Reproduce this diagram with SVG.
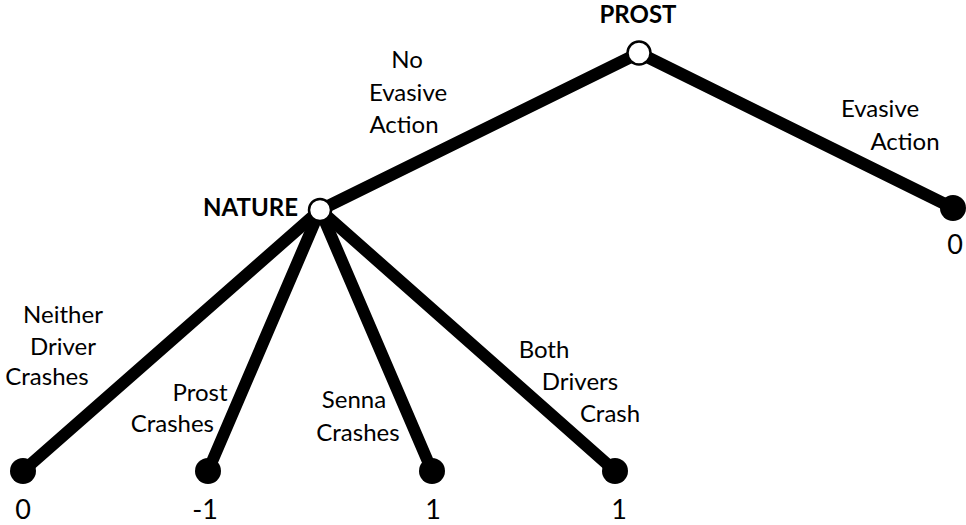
<svg xmlns="http://www.w3.org/2000/svg" width="966" height="525" viewBox="0 0 966 525">
  <style>
    .edge { stroke: #000; stroke-width: 12; stroke-linecap: round; fill: none; }
    .decision { fill: #fff; stroke: #000; stroke-width: 2.5; }
    .terminal { fill: #000; }
    text { font-family: "Lato", "Open Sans", "Liberation Sans", sans-serif; font-size: 24px; fill: #000; }
    .title { font-weight: bold; }
    .mid { text-anchor: middle; }
    .payoff { font-size: 27px; text-anchor: middle; }
  </style>
  <rect width="966" height="525" fill="#fff"/>

  <!-- branches -->
  <g id="connectors">
    <line class="edge" x1="639" y1="53" x2="320" y2="210"/>
    <line class="edge" x1="639" y1="53" x2="953" y2="208"/>
    <line class="edge" x1="320" y1="210" x2="23" y2="471"/>
    <line class="edge" x1="320" y1="210" x2="208" y2="471"/>
    <line class="edge" x1="320" y1="210" x2="432" y2="471"/>
    <line class="edge" x1="320" y1="210" x2="615" y2="471"/>
  </g>

  <!-- branch labels -->
  <g id="labels">
    <text class="mid" x="407" y="68">No</text>
    <text class="mid" x="408" y="101">Evasive</text>
    <text class="mid" x="404" y="133">Action</text>

    <text class="mid" x="880" y="117">Evasive</text>
    <text class="mid" x="905" y="150">Action</text>

    <text class="mid" x="63" y="323">Neither</text>
    <text class="mid" x="63" y="355">Driver</text>
    <text class="mid" x="47" y="385">Crashes</text>

    <text class="mid" x="200" y="401">Prost</text>
    <text x="214" y="432" text-anchor="end">Crashes</text>

    <text class="mid" x="354" y="408">Senna</text>
    <text class="mid" x="358" y="441">Crashes</text>

    <text class="mid" x="544" y="358">Both</text>
    <text class="mid" x="580" y="390">Drivers</text>
    <text class="mid" x="610" y="422">Crash</text>
  </g>

  <g id="prost">
    <circle class="decision" cx="639" cy="53" r="11.5"/>
    <text class="title mid" x="638" y="23">PROST</text>
  </g>

  <g id="nature">
    <circle class="decision" cx="320" cy="210" r="11"/>
    <text class="title" x="298" y="216" text-anchor="end">NATURE</text>
  </g>

  <g id="leaf-evasive">
    <circle class="terminal" cx="953" cy="208" r="13"/>
    <text class="payoff" x="955" y="254">0</text>
  </g>

  <g id="leaf-neither">
    <circle class="terminal" cx="23" cy="471" r="13"/>
    <text class="payoff" x="23" y="519">0</text>
  </g>

  <g id="leaf-prost">
    <circle class="terminal" cx="208" cy="471" r="13"/>
    <text class="payoff" x="205" y="519">-1</text>
  </g>

  <g id="leaf-senna">
    <circle class="terminal" cx="432" cy="471" r="13"/>
    <text class="payoff" x="433" y="519">1</text>
  </g>

  <g id="leaf-both">
    <circle class="terminal" cx="615" cy="471" r="13"/>
    <text class="payoff" x="619" y="519">1</text>
  </g>
</svg>
